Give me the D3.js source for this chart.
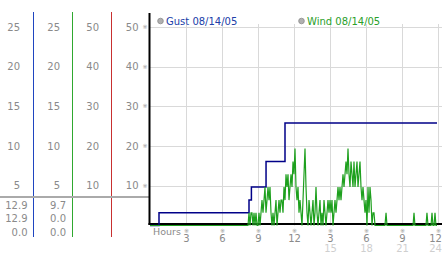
<!DOCTYPE html>
<html>
<head>
<meta charset="utf-8">
<script src="https://cdn.jsdelivr.net/npm/d3@7"></script>
<style>
  body { margin: 0; background: #fff; overflow: hidden; }
  text { font-family: "DejaVu Sans", Verdana, sans-serif; }
</style>
</head>
<body>
<div id="chart"></div>
<script>
// ticks
let mainTicks = [10, 20, 30, 40, 50];
let halfTicks = [5, 10, 15, 20, 25];
let hourTicks = [3, 6, 9, 12, 15, 18, 21, 24];
let clockLabels = ["3", "6", "9", "12", "3", "6", "9", "12"];
let dayLabels = ["", "", "", "", "15", "18", "21", "24"];

// summary rows under the grey line (max / current / min ?)
let gustSummary = ["12.9", "12.9", "0.0"];
let windSummary = ["9.7", "0.0", "0.0"];

let legendNames = ["Gust 08/14/05", "Wind 08/14/05"];

// gust: [hour, value], drawn as steps
let gustPoints = [[0, 0], [0.75, 3.2], [8.25, 6.4], [8.45, 9.7], [9.67, 16.1], [11.25, 25.8], [23.92, 25.8]];

// wind, 5 minute samples starting 08:00
let windStart = 8;
let windH08 = [0, 0, 0, 3.2, 0, 3.2, 3.2, 0, 3.2, 0, 3.2, 0];
let windH09 = [0, 3.2, 0, 3.2, 6.4, 3.2, 6.4, 9.7, 3.2, 6.4, 9.7, 6.4];
let windH10 = [9.7, 3.2, 0, 3.2, 0, 3.2, 6.4, 0, 3.2, 6.4, 3.2, 6.4];
let windH11 = [6.4, 3.2, 9.7, 6.4, 12.9, 9.7, 12.9, 6.4, 9.7, 12.9, 9.7, 16.1];
let windH12 = [12.9, 19.4, 9.7, 6.4, 9.7, 3.2, 6.4, 3.2, 0, 6.4, 12.9, 19.4];
let windH13 = [9.7, 3.2, 0, 6.4, 3.2, 0, 3.2, 6.4, 0, 3.2, 9.7, 3.2];
let windH14 = [0, 3.2, 6.4, 0, 3.2, 0, 6.4, 3.2, 0, 3.2, 6.4, 3.2];
let windH15 = [6.4, 3.2, 6.4, 0, 3.2, 6.4, 3.2, 6.4, 9.7, 6.4, 9.7, 6.4];
let windH16 = [9.7, 12.9, 9.7, 12.9, 16.1, 12.9, 19.4, 12.9, 9.7, 16.1, 12.9, 9.7];
let windH17 = [16.1, 9.7, 12.9, 16.1, 9.7, 12.9, 16.1, 9.7, 6.4, 9.7, 6.4, 3.2];
let windH18 = [6.4, 0, 9.7, 3.2, 9.7, 6.4, 0, 3.2, 3.2, 0, 0, 0];
// late isolated readings [hour, value]
let windTail = [[19.58, 0], [19.67, 3.2], [19.75, 0], [21.92, 0], [22, 3.2], [22.08, 0],
    [23, 0], [23.08, 3.2], [23.17, 0], [23.42, 0], [23.5, 3.2], [23.58, 0],
    [23.67, 0], [23.75, 3.2], [23.83, 0], [23.92, 0]];

let W = 442, H = 253;
let plot = {left: 150, right: 438, top: 27, bottom: 225.5};

let svg = d3.select("#chart").append("svg")
    .attr("width", W)
    .attr("height", H);

let x = d3.scaleLinear().domain([0, 24]).range([plot.left, plot.right]);
let y = d3.scaleLinear().domain([0, 50]).range([plot.bottom, plot.top]);
let yHalf = d3.scaleLinear().domain([0, 25]).range([plot.bottom, plot.top]);

let grid = "#d9d9d9", label = "#8a8a8a";

// grid
svg.append("g").selectAll("line")
    .data(mainTicks)
    .enter().append("line")
    .attr("x1", plot.left).attr("x2", W)
    .attr("y1", d => Math.round(y(d)) + 0.5)
    .attr("y2", d => Math.round(y(d)) + 0.5)
    .attr("stroke", grid);

svg.append("g").selectAll("line")
    .data(hourTicks)
    .enter().append("line")
    .attr("x1", d => Math.round(x(d)) + 0.5)
    .attr("x2", d => Math.round(x(d)) + 0.5)
    .attr("y1", 24).attr("y2", plot.bottom)
    .attr("stroke", grid);

// left panel
let cols = [
    {line: 33.5, color: "#1f45c0", ticks: halfTicks, scale: yHalf, right: 20},
    {line: 72.5, color: "#2fa82f", ticks: halfTicks, scale: yHalf, right: 60},
    {line: 111.5, color: "#c83030", ticks: mainTicks, scale: y, right: 99}
];

cols.forEach(c => {
    svg.append("line")
        .attr("x1", c.line).attr("x2", c.line)
        .attr("y1", 12).attr("y2", 237)
        .attr("stroke", c.color);
    svg.selectAll(null)
        .data(c.ticks)
        .enter().append("text")
        .attr("x", c.right)
        .attr("y", d => c.scale(d) + 3.5)
        .attr("text-anchor", "end")
        .attr("font-size", 10)
        .attr("fill", label)
        .text(d => d);
});

// main y labels + little tick marks
svg.selectAll(null)
    .data(mainTicks)
    .enter().append("text")
    .attr("x", 138.5)
    .attr("y", d => y(d) + 3.5)
    .attr("text-anchor", "end")
    .attr("font-size", 10)
    .attr("fill", label)
    .text(d => d);

svg.selectAll(null)
    .data(mainTicks)
    .enter().append("text")
    .attr("x", 145)
    .attr("y", d => y(d) + 2)
    .attr("text-anchor", "middle")
    .attr("font-size", 6)
    .attr("fill", "#999")
    .text("※");

svg.append("rect")
    .attr("x", 0).attr("y", 196)
    .attr("width", plot.left).attr("height", 2)
    .attr("fill", "#aaaaaa");

[gustSummary, windSummary].forEach((vals, k) => {
    svg.selectAll(null)
        .data(vals)
        .enter().append("text")
        .attr("x", k == 0 ? 27.5 : 66)
        .attr("y", (d, i) => 208.5 + i * 13.5)
        .attr("text-anchor", "end")
        .attr("font-size", 10)
        .attr("fill", label)
        .text(d => d);
});

// axes lines
svg.append("rect")
    .attr("x", 148.5).attr("y", 13)
    .attr("width", 2).attr("height", 212)
    .attr("fill", "#000");
svg.append("rect")
    .attr("x", 148.5).attr("y", 223)
    .attr("width", W - 148.5).attr("height", 2)
    .attr("fill", "#000");

// x labels
svg.append("text")
    .attr("x", 153).attr("y", 235)
    .attr("font-size", 9.5)
    .attr("fill", label)
    .text("Hours");

svg.selectAll(null)
    .data(hourTicks)
    .enter().append("text")
    .attr("x", d => x(d) + 0.5)
    .attr("y", 233)
    .attr("text-anchor", "middle")
    .attr("font-size", 6)
    .attr("fill", "#999")
    .text("※");

svg.selectAll(null)
    .data(hourTicks)
    .enter().append("text")
    .attr("x", d => Math.min(x(d) + 0.5, 435.5))
    .attr("y", 242)
    .attr("text-anchor", "middle")
    .attr("font-size", 10)
    .attr("fill", label)
    .text((d, i) => clockLabels[i]);

svg.selectAll(null)
    .data(hourTicks)
    .enter().append("text")
    .attr("x", d => Math.min(x(d) + 0.5, 435.5))
    .attr("y", 251.5)
    .attr("text-anchor", "middle")
    .attr("font-size", 10)
    .attr("fill", "#cfcfcf")
    .text((d, i) => dayLabels[i]);

// series
let windRun = [].concat(windH08, windH09, windH10, windH11, windH12, windH13,
    windH14, windH15, windH16, windH17, windH18);
let windPoints = [[0, 0]]
    .concat(windRun.map((v, i) => [windStart + i * 5 / 60, v]))
    .concat(windTail);

let stepLine = d3.line()
    .x(d => x(d[0]))
    .y(d => y(d[1]))
    .curve(d3.curveStepAfter);

let plainLine = d3.line()
    .x(d => x(d[0]))
    .y(d => y(d[1]));

svg.append("path")
    .datum(gustPoints)
    .attr("d", stepLine)
    .attr("fill", "none")
    .attr("stroke", "#000088")
    .attr("stroke-width", 1.5);

svg.append("path")
    .datum(windPoints)
    .attr("d", plainLine)
    .attr("fill", "none")
    .attr("stroke", "#1ea01e")
    .attr("stroke-width", 1.2);

// legend
let legend = [
    {name: legendNames[0], cx: 160.5, color: "#2040a8"},
    {name: legendNames[1], cx: 301.5, color: "#2aa02a"}
];
legend.forEach(l => {
    svg.append("circle")
        .attr("cx", l.cx).attr("cy", 21)
        .attr("r", 2.8)
        .attr("fill", "#b0b0b0")
        .attr("stroke", "#8a8a8a")
        .attr("stroke-width", 0.8);
    svg.append("text")
        .attr("x", l.cx + 5.5).attr("y", 24.5)
        .attr("font-size", 10)
        .attr("fill", l.color)
        .text(l.name);
});
</script>
</body>
</html>
